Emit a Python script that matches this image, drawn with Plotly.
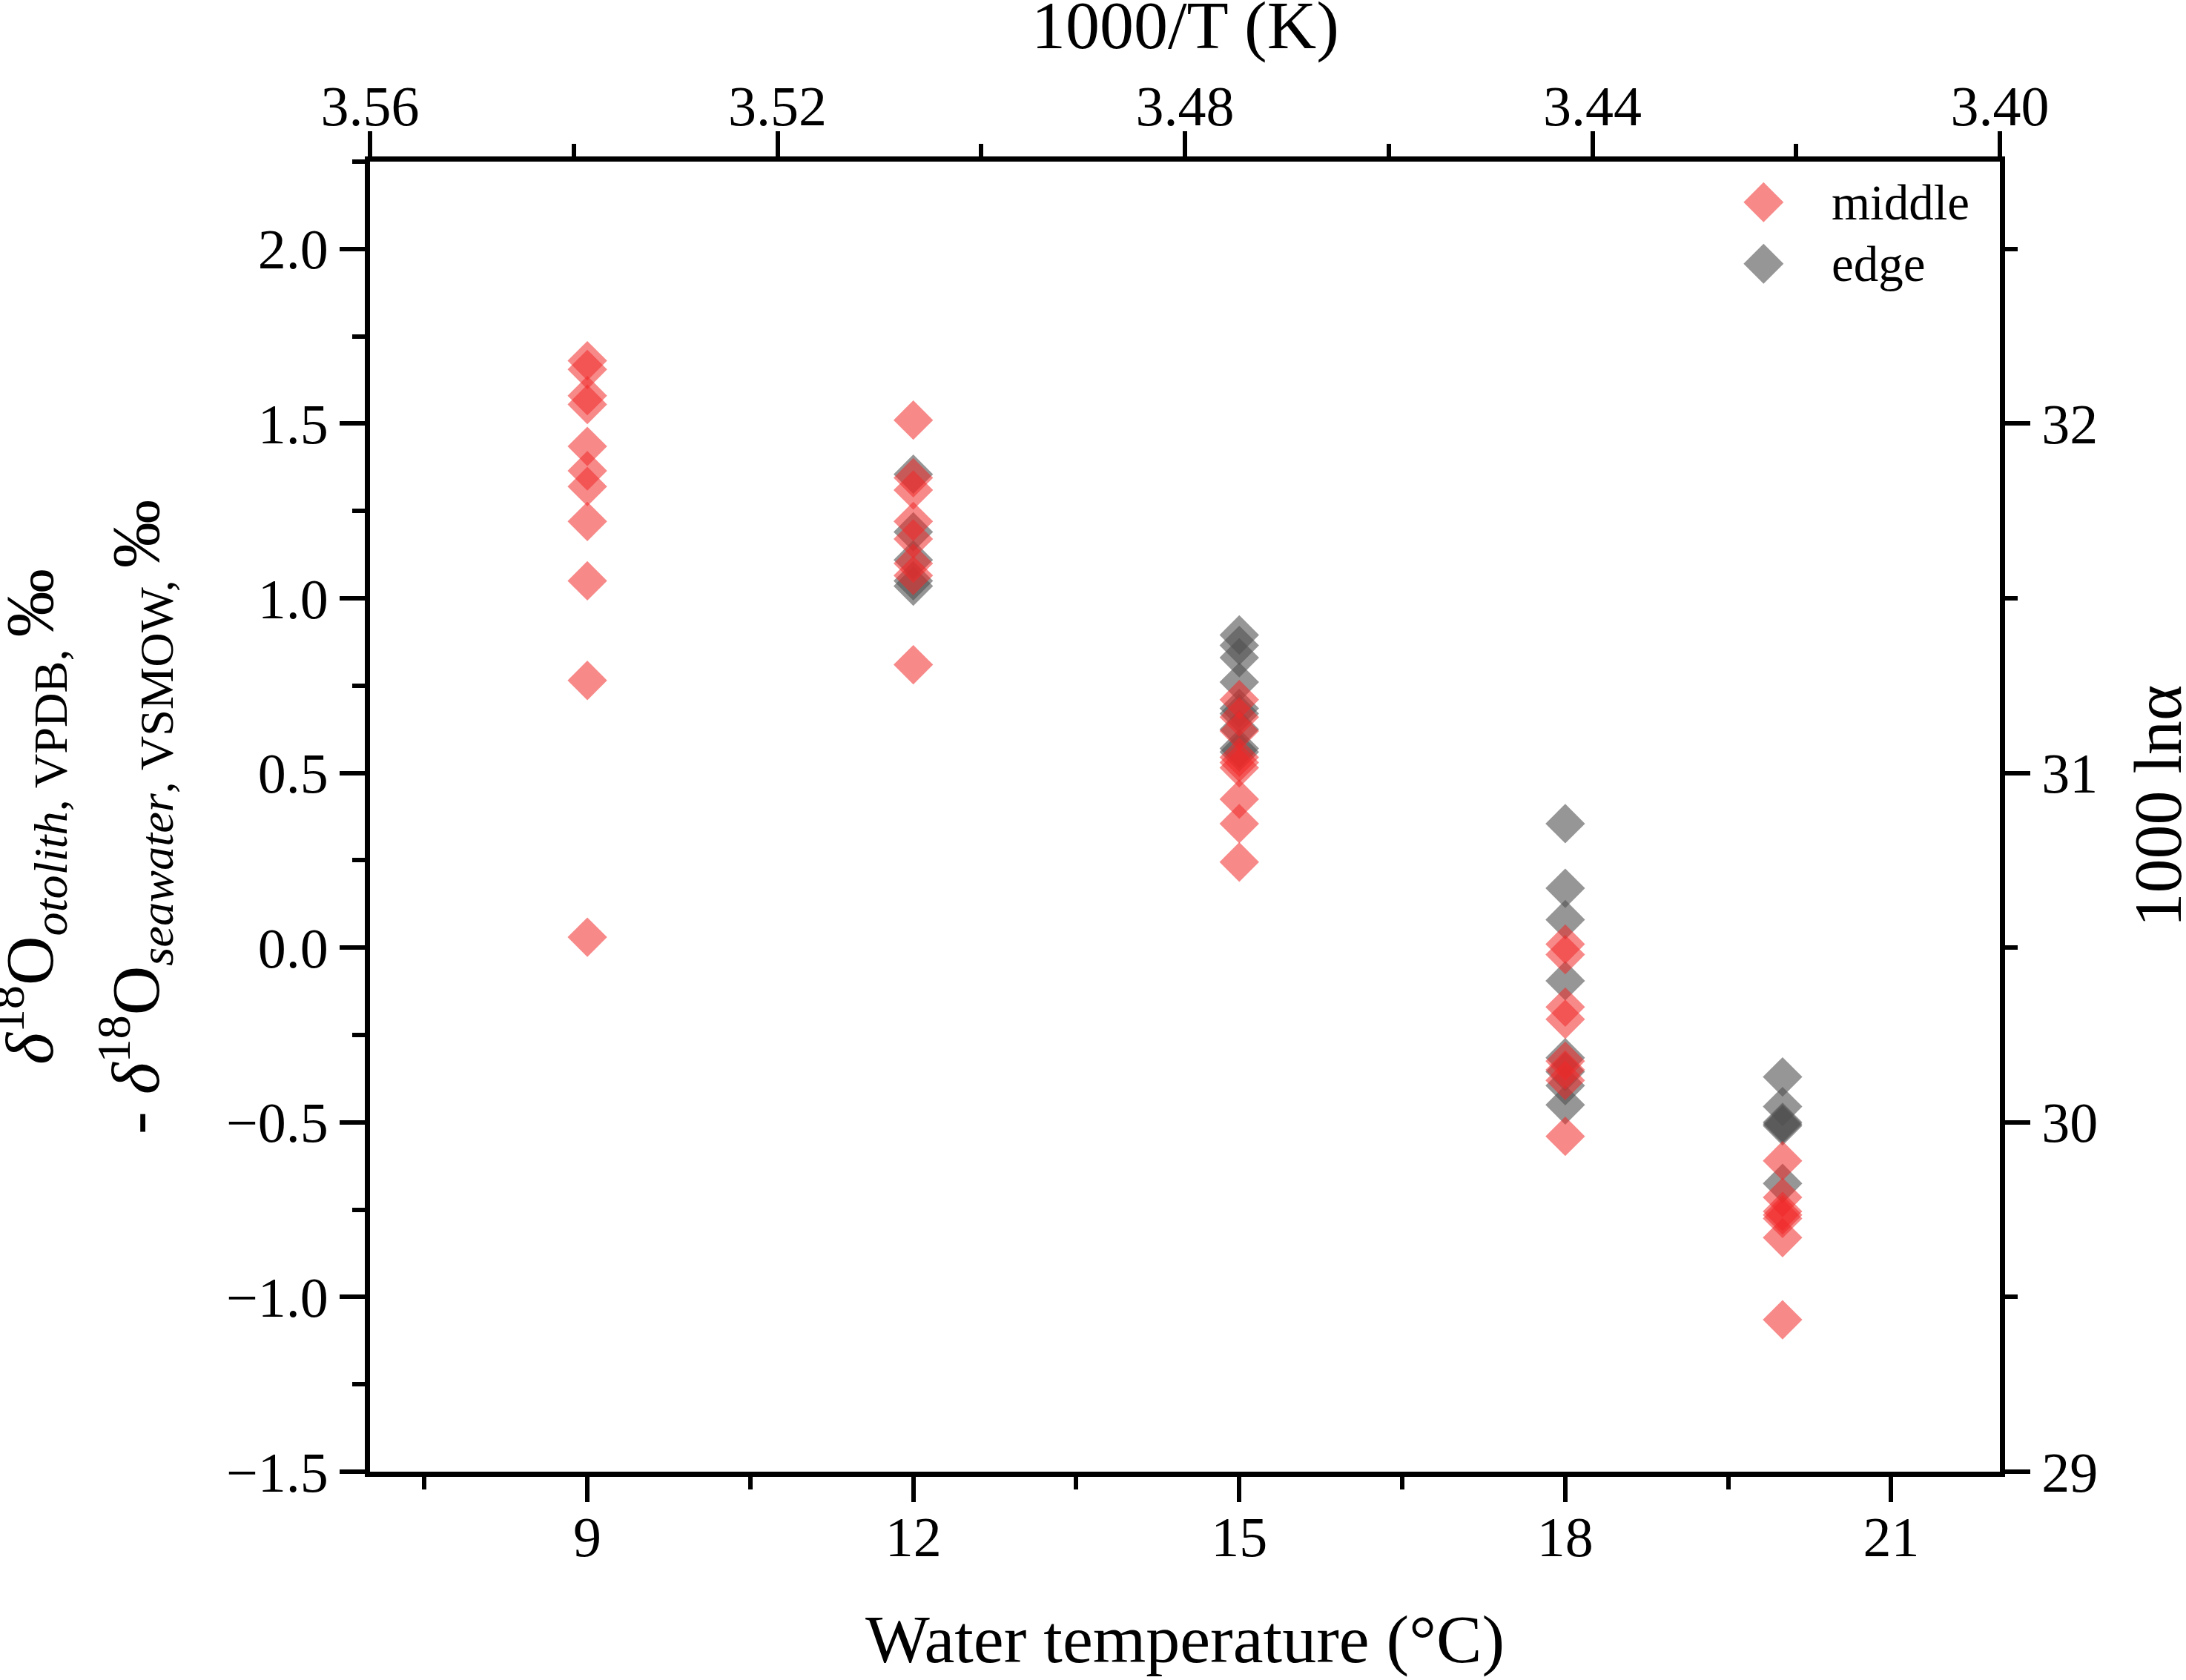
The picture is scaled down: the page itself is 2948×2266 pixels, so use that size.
import plotly.graph_objects as go

# water temperatures (°C) of the rearing groups
temps = [9, 12, 15, 18, 20]

# δ18O otolith - δ18O seawater (‰), middle part of the otolith
middle_9 = [1.68, 1.655, 1.58, 1.555, 1.435, 1.365, 1.32, 1.22, 1.05, 0.765, 0.03]
middle_12 = [1.51, 1.345, 1.31, 1.22, 1.17, 1.10, 1.065, 0.81]
middle_15 = [0.71, 0.66, 0.62, 0.545, 0.53, 0.515, 0.425, 0.355, 0.245]
middle_18 = [0.01, -0.02, -0.17, -0.205, -0.325, -0.35, -0.38, -0.54]
middle_20 = [-0.61, -0.715, -0.755, -0.765, -0.775, -0.83, -1.065]

# same, edge of the otolith (no edge samples at 9 °C)
edge_9 = []
edge_12 = [1.355, 1.19, 1.11, 1.05, 1.035]
edge_15 = [0.895, 0.865, 0.83, 0.76, 0.685, 0.67, 0.625, 0.57, 0.56]
edge_18 = [0.355, 0.17, 0.08, -0.095, -0.315, -0.355, -0.395, -0.45]
edge_20 = [-0.37, -0.455, -0.50, -0.505, -0.51, -0.675]

x_ticks = [9, 12, 15, 18, 21]
top_ticks = [3.56, 3.52, 3.48, 3.44, 3.40]
right_ticks = [29, 30, 31, 32]

legend_names = ["middle", "edge"]

RED = "rgba(240,40,40,0.55)"
GRAY = "rgba(80,80,80,0.6)"
FONT = "Liberation Serif"


def flatten(groups):
    xs, ys = [], []
    for t, vals in zip(temps, groups):
        xs += [t] * len(vals)
        ys += vals
    return xs, ys


mx, my = flatten([middle_9, middle_12, middle_15, middle_18, middle_20])
ex, ey = flatten([edge_9, edge_12, edge_15, edge_18, edge_20])

fig = go.Figure()
fig.add_trace(go.Scatter(
    x=ex, y=ey, mode="markers", name="edge",
    marker=dict(symbol="diamond", size=41, color=GRAY, line=dict(width=0)),
))
fig.add_trace(go.Scatter(
    x=mx, y=my, mode="markers", name="middle",
    marker=dict(symbol="diamond", size=41, color=RED, line=dict(width=0)),
))
# empty trace so the top (1000/T) and right (1000 ln alpha) axes get drawn
fig.add_trace(go.Scatter(x=[], y=[], xaxis="x2", yaxis="y2", showlegend=False, hoverinfo="skip"))

axis_common = dict(
    showgrid=False, zeroline=False, showline=True, linecolor="black", linewidth=7,
    ticks="outside", ticklen=34, tickwidth=6, tickcolor="black",
    tickfont=dict(family=FONT, size=76, color="black"),
)
minor_common = dict(ticklen=17, tickwidth=6, tickcolor="black", ticks="outside")

fig.update_layout(
    width=2948, height=2266,
    margin=dict(l=499, r=251, t=218, b=281),
    plot_bgcolor="white", paper_bgcolor="white",
    showlegend=False,
    font=dict(family=FONT, color="black"),
    xaxis=dict(
        range=[7, 22], tickvals=x_ticks, side="bottom", ticklabelstandoff=-18,
        minor=dict(dtick=1.5, tick0=7.5, **minor_common),
        **axis_common,
    ),
    xaxis2=dict(
        range=[3.56, 3.40], tickvals=top_ticks, tickformat=".2f",
        overlaying="x", side="top", anchor="y", ticklabelstandoff=-22,
        minor=dict(dtick=0.02, tick0=3.40, **minor_common),
        **axis_common,
    ),
    yaxis=dict(
        range=[-1.5, 2.25], dtick=0.5, tick0=-1.5, tickformat=".1f",
        minor=dict(dtick=0.25, tick0=-1.5, **minor_common),
        **axis_common,
    ),
    yaxis2=dict(
        range=[29, 32.75], tickvals=right_ticks,
        overlaying="y", side="right", anchor="x",
        minor=dict(dtick=0.5, tick0=29, **minor_common),
        **axis_common,
    ),
)

title_font = dict(family=FONT, size=92, color="black")
fig.add_annotation(text="Water temperature (°C)", x=0.5, y=-0.128, xref="paper", yref="paper",
                   showarrow=False, xanchor="center", yanchor="middle", font=title_font)
fig.add_annotation(text="1000/T (K)", x=0.5, y=1.104, xref="paper", yref="paper",
                   showarrow=False, xanchor="center", yanchor="middle", font=title_font)
fig.add_annotation(text="1000 ln\u03b1", x=1.097, y=0.508, xref="paper", yref="paper",
                   showarrow=False, xanchor="center", yanchor="middle", textangle=-90, font=title_font)
fig.add_annotation(text="<i>\u03b4</i><sup>18</sup>O<sub><i>otolith</i>, VPDB, </sub>\u2030",
                   x=-0.209, y=0.5, xref="paper", yref="paper", showarrow=False,
                   xanchor="center", yanchor="middle", textangle=-90, font=title_font)
fig.add_annotation(text="- <i>\u03b4</i><sup>18</sup>O<sub><i>seawater</i>, VSMOW, </sub>\u2030",
                   x=-0.144, y=0.5, xref="paper", yref="paper", showarrow=False,
                   xanchor="center", yanchor="middle", textangle=-90, font=title_font)

# legend drawn by hand so the symbols keep the size of the markers
legend_colors = [RED, GRAY]
legend_y = [0.969, 0.922]
for name, col, ly in zip(legend_names, legend_colors, legend_y):
    fig.add_shape(type="path", xref="paper", yref="paper", xsizemode="pixel", ysizemode="pixel",
                  xanchor=0.855, yanchor=ly, path="M -27 0 L 0 27 L 27 0 L 0 -27 Z",
                  fillcolor=col, line=dict(width=0))
    fig.add_annotation(text=name, x=0.896, y=ly, xref="paper", yref="paper", showarrow=False,
                       xanchor="left", yanchor="middle",
                       font=dict(family=FONT, size=67, color="black"))

# drop the default 8px page margin so the figure fills the window exactly
fig.write_html("out.html", config={"displayModeBar": False},
               post_script="document.body.style.margin = '0px';")
